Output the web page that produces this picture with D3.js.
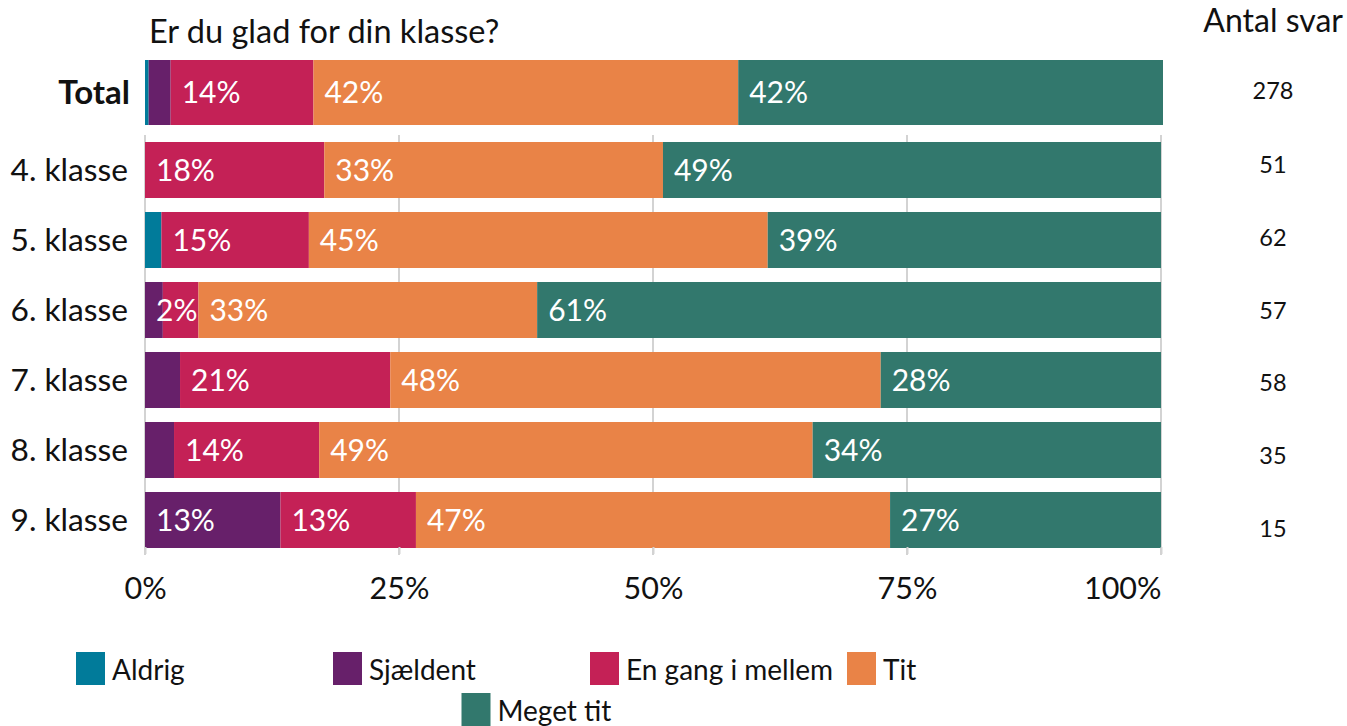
<!DOCTYPE html>
<html>
<head>
<meta charset="utf-8">
<script src="https://cdn.jsdelivr.net/npm/d3@7/dist/d3.min.js"></script>
<style>
  html, body { margin: 0; padding: 0; background: #ffffff; }
  svg { display: block; font-family: Lato, "Open Sans", sans-serif; }
</style>
</head>
<body>
<svg id="chart" width="1347" height="726"></svg>
<script>
// Survey question and response categories
const title = "Er du glad for din klasse?";
const countHeader = "Antal svar";
const responses = ["Aldrig", "Sjældent", "En gang i mellem", "Tit", "Meget tit"];
const colors = ["#017b9a", "#67206a", "#c42156", "#e98347", "#32786d"];

// Rows: the total on top, then one per grade
const totalLabel = "Total";
const grades = ["4. klasse", "5. klasse", "6. klasse", "7. klasse", "8. klasse", "9. klasse"];

// Number of answers per response, one array per response category (grade order)
const aldrig    = [0, 1, 0, 0, 0, 0];
const sjaeldent = [0, 0, 1, 2, 1, 2];
const enGang    = [9, 9, 2, 12, 5, 2];
const tit       = [17, 28, 19, 28, 17, 7];
const megetTit  = [25, 24, 35, 16, 12, 4];

// Total across all grades
const totalCounts = [1, 6, 39, 116, 116];
const nTotal = 278;
const nGrades = [51, 62, 57, 58, 35, 15];

// Axis ticks
const tickValues = [0, 0.25, 0.5, 0.75, 1];
const tickLabels = ["0%", "25%", "50%", "75%", "100%"];

// Small segments that still carry a value label
const extraLabels = [["6. klasse", "Sjældent"]];

const series = [aldrig, sjaeldent, enGang, tit, megetTit];
const minLabelShare = 0.05;

const svg = d3.select("#chart");
const fmt = d3.format(".0%");

const x = d3.scaleLinear().domain([0, 1]).range([145, 1161]);
const xTotal = d3.scaleLinear().domain([0, 1]).range([145, 1163]);
const y = d3.scaleBand().domain(grades).range([135, 555]).paddingInner(0.2).paddingOuter(0.1);
const yCount = d3.scaleBand().domain(grades).range([128, 565]);

// Build stacked rows
function stackRow(name, counts, n) {
  let acc = 0;
  return counts.map((c, i) => {
    const share = c / n;
    const seg = { row: name, key: responses[i], color: colors[i], x0: acc, x1: acc + share, share };
    acc += share;
    return seg;
  });
}
const gradeRows = grades.map((g, gi) => stackRow(g, series.map(s => s[gi]), nGrades[gi]));
const totalRow = stackRow(totalLabel, totalCounts, nTotal);

function showLabel(d) {
  if (d.share >= minLabelShare) return true;
  return extraLabels.some(e => e[0] === d.row && e[1] === d.key);
}

// Gridlines
svg.append("g")
  .selectAll("line")
  .data(tickValues)
  .join("line")
  .attr("x1", d => x(d)).attr("x2", d => x(d))
  .attr("y1", y.range()[0]).attr("y2", y.range()[1])
  .attr("stroke", "#d3d3d3")
  .attr("stroke-width", 2);

// Grade bars
const rowsG = svg.append("g");
gradeRows.forEach(row => {
  const g = rowsG.append("g");
  g.selectAll("rect")
    .data(row.filter(d => d.share > 0))
    .join("rect")
    .attr("x", d => x(d.x0))
    .attr("width", d => x(d.x1) - x(d.x0))
    .attr("y", d => y(d.row))
    .attr("height", y.bandwidth())
    .attr("fill", d => d.color);
  g.selectAll("text")
    .data(row.filter(d => d.share > 0 && showLabel(d)))
    .join("text")
    .attr("x", d => x(d.x0) + 11)
    .attr("y", d => y(d.row) + y.bandwidth() / 2)
    .attr("dy", "0.36em")
    .attr("fill", "#ffffff")
    .attr("font-size", 30)
    .text(d => fmt(d.share));
});

// Total bar
const totalTop = 60, totalH = 65;
const tg = svg.append("g");
tg.selectAll("rect")
  .data(totalRow)
  .join("rect")
  .attr("x", d => xTotal(d.x0))
  .attr("width", d => xTotal(d.x1) - xTotal(d.x0))
  .attr("y", totalTop)
  .attr("height", totalH)
  .attr("fill", d => d.color);
tg.selectAll("text")
  .data(totalRow.filter(showLabel))
  .join("text")
  .attr("x", d => xTotal(d.x0) + 11)
  .attr("y", totalTop + totalH / 2)
  .attr("dy", "0.36em")
  .attr("fill", "#ffffff")
  .attr("font-size", 30)
  .text(d => fmt(d.share));

// Row labels
svg.append("text")
  .attr("x", 130).attr("y", totalTop + totalH / 2).attr("dy", "0.36em")
  .attr("text-anchor", "end")
  .attr("font-size", 33).attr("font-weight", "bold")
  .attr("fill", "#111")
  .text(totalLabel);
svg.append("g")
  .selectAll("text")
  .data(grades)
  .join("text")
  .attr("x", 128).attr("y", d => y(d) + y.bandwidth() / 2).attr("dy", "0.36em")
  .attr("text-anchor", "end")
  .attr("font-size", 31.7)
  .attr("fill", "#111")
  .text(d => d);

// Bottom axis
const axis = d3.axisBottom(x)
  .tickValues(tickValues)
  .tickSize(7)
  .tickPadding(23)
  .tickFormat((d, i) => tickLabels[i]);
const axG = svg.append("g").attr("transform", `translate(0,${y.range()[1] - 8})`).call(axis);
axG.select(".domain").remove();
axG.selectAll(".tick line").attr("stroke", "#d3d3d3").attr("stroke-width", 2);
axG.selectAll(".tick text")
  .attr("font-family", "Lato, sans-serif")
  .attr("font-size", 30.5)
  .attr("fill", "#111")
  .attr("text-anchor", (d, i) => i === tickValues.length - 1 ? "end" : "middle");

// Title and count column
svg.append("text")
  .attr("x", 149).attr("y", 43)
  .attr("font-size", 32.5)
  .attr("fill", "#111")
  .text(title);
svg.append("text")
  .attr("x", 1343).attr("y", 32)
  .attr("text-anchor", "end")
  .attr("font-size", 32)
  .attr("fill", "#111")
  .text(countHeader);
svg.append("text")
  .attr("x", 1273).attr("y", 91).attr("dy", "0.36em")
  .attr("text-anchor", "middle")
  .attr("font-size", 23.5)
  .attr("fill", "#111")
  .text(nTotal);
svg.append("g")
  .selectAll("text")
  .data(grades)
  .join("text")
  .attr("x", 1273).attr("y", d => yCount(d) + yCount.bandwidth() / 2).attr("dy", "0.36em")
  .attr("text-anchor", "middle")
  .attr("font-size", 23.5)
  .attr("fill", "#111")
  .text((d, i) => nGrades[i]);

// Legend: four per row, the fifth centred underneath
const legX0 = 76, legStep = 257, legY0 = 652, legRowH = 41;
const legend = svg.append("g")
  .selectAll("g")
  .data(responses)
  .join("g")
  .attr("transform", (d, i) => {
    const col = i < 4 ? i : 1.5;
    const row = i < 4 ? 0 : 1;
    return `translate(${legX0 + col * legStep},${legY0 + row * legRowH})`;
  });
legend.append("rect")
  .attr("width", 29).attr("height", 33)
  .attr("fill", (d, i) => colors[i]);
legend.append("text")
  .attr("x", 36).attr("y", 18).attr("dy", "0.36em")
  .attr("font-size", 28)
  .attr("fill", "#111")
  .text(d => d);
</script>
</body>
</html>
